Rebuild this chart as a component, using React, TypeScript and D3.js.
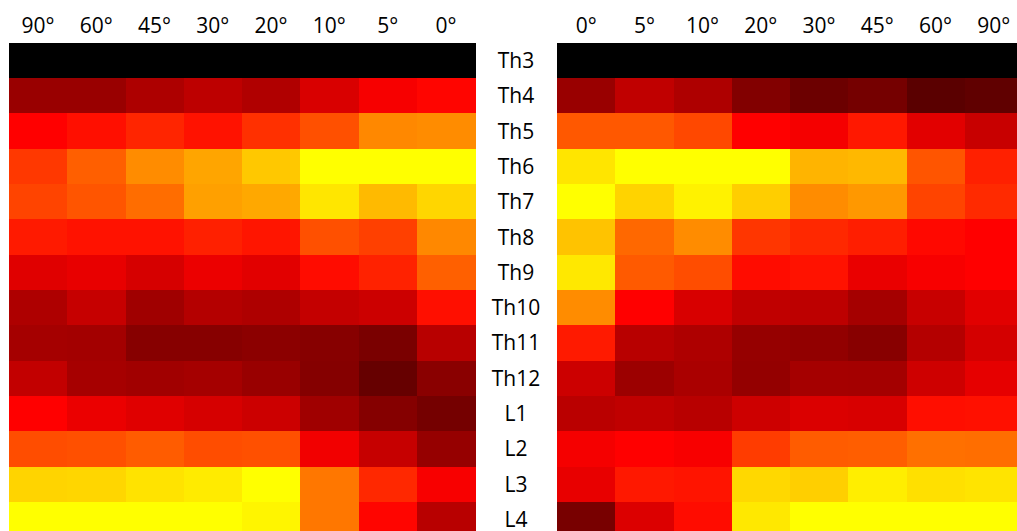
import React from 'react';
import * as d3 from 'd3';

// vertebral levels (rows)
const levels = ['Th3', 'Th4', 'Th5', 'Th6', 'Th7', 'Th8', 'Th9', 'Th10', 'Th11', 'Th12', 'L1', 'L2', 'L3', 'L4'];

// angle columns, left panel runs 90° -> 0°, right panel 0° -> 90°
const leftAngles = ['90°', '60°', '45°', '30°', '20°', '10°', '5°', '0°'];
const rightAngles = ['0°', '5°', '10°', '20°', '30°', '45°', '60°', '90°'];

// normalised values (0 = black, 0.5 = red, 1 = yellow), one row per level
const leftValues = [
  [0, 0, 0, 0, 0, 0, 0, 0],
  [0.30, 0.30, 0.34, 0.37, 0.345, 0.425, 0.485, 0.51],
  [0.5, 0.53, 0.573, 0.535, 0.594, 0.657, 0.767, 0.775],
  [0.61, 0.686, 0.775, 0.824, 0.892, 1, 1, 1],
  [0.633, 0.667, 0.714, 0.814, 0.83, 0.951, 0.865, 0.92],
  [0.55, 0.535, 0.535, 0.563, 0.541, 0.657, 0.625, 0.767],
  [0.44, 0.455, 0.42, 0.463, 0.443, 0.524, 0.567, 0.688],
  [0.341, 0.388, 0.314, 0.353, 0.341, 0.384, 0.4, 0.53],
  [0.324, 0.32, 0.265, 0.265, 0.275, 0.265, 0.24, 0.36],
  [0.38, 0.325, 0.316, 0.324, 0.30, 0.26, 0.20, 0.27],
  [0.5, 0.46, 0.44, 0.42, 0.40, 0.314, 0.26, 0.23],
  [0.65, 0.657, 0.68, 0.65, 0.657, 0.475, 0.388, 0.294],
  [0.916, 0.92, 0.945, 0.96, 1, 0.733, 0.578, 0.486],
  [1, 1, 1, 1, 0.98, 0.733, 0.51, 0.36],
];

const rightValues = [
  [0, 0, 0, 0, 0, 0, 0, 0],
  [0.30, 0.376, 0.341, 0.255, 0.212, 0.23, 0.176, 0.188],
  [0.673, 0.673, 0.641, 0.5, 0.48, 0.547, 0.443, 0.392],
  [0.949, 1, 1, 1, 0.853, 0.86, 0.667, 0.563],
  [1, 0.914, 0.975, 0.904, 0.775, 0.798, 0.633, 0.582],
  [0.882, 0.704, 0.775, 0.606, 0.578, 0.559, 0.516, 0.5],
  [0.955, 0.676, 0.65, 0.524, 0.535, 0.459, 0.486, 0.5],
  [0.775, 0.5, 0.424, 0.376, 0.371, 0.324, 0.392, 0.443],
  [0.55, 0.36, 0.341, 0.294, 0.286, 0.267, 0.353, 0.416],
  [0.4, 0.306, 0.333, 0.29, 0.324, 0.322, 0.404, 0.451],
  [0.365, 0.376, 0.36, 0.402, 0.43, 0.424, 0.527, 0.531],
  [0.48, 0.5, 0.486, 0.618, 0.68, 0.684, 0.72, 0.716],
  [0.455, 0.547, 0.539, 0.924, 0.906, 0.967, 0.94, 0.947],
  [0.235, 0.431, 0.524, 0.955, 1, 1, 1, 1],
];

const W = 1017;
const H = 531;
const FONT = '"Open Sans", "Noto Sans", sans-serif';

const color = d3.scaleLinear<string>()
  .domain([0, 0.5, 1])
  .range(['#000000', '#ff0000', '#ffff00'])
  .interpolate(d3.interpolateRgb)
  .clamp(true);

const y = d3.scaleBand<string>().domain(levels).range([42.7, 537.3]);

function Panel({ angles, values, x0, x1 }: { angles: string[]; values: number[][]; x0: number; x1: number }) {
  const x = d3.scaleBand<string>().domain(angles).range([x0, x1]);
  return (
    <g>
      {levels.map((lv, i) =>
        angles.map((a, j) => (
          <rect
            key={lv + a}
            x={x(a)}
            y={y(lv)}
            width={x.bandwidth() + 0.5}
            height={y.bandwidth() + 0.5}
            fill={color(values[i][j])}
          />
        ))
      )}
      {angles.map((a) => (
        <text
          key={'h' + a}
          x={(x(a) ?? 0) + x.bandwidth() / 2}
          y={33}
          textAnchor="middle"
          fontFamily={FONT}
          fontSize={21}
          fill="#000"
        >
          {a}
        </text>
      ))}
    </g>
  );
}

export default function App() {
  return (
    <svg
      width={W}
      height={H}
      style={{ position: 'absolute', left: 0, top: 0, background: '#fff' }}
      shapeRendering="crispEdges"
    >
      <rect x={0} y={0} width={W} height={H} fill="#fff" />
      <Panel angles={leftAngles} values={leftValues} x0={9} x1={475} />
      <Panel angles={rightAngles} values={rightValues} x0={557} x1={1023} />
      {levels.map((lv) => (
        <text
          key={'l' + lv}
          x={516}
          y={(y(lv) ?? 0) + y.bandwidth() / 2 + 7.5}
          textAnchor="middle"
          fontFamily={FONT}
          fontSize={21}
          fill="#000"
        >
          {lv}
        </text>
      ))}
    </svg>
  );
}
